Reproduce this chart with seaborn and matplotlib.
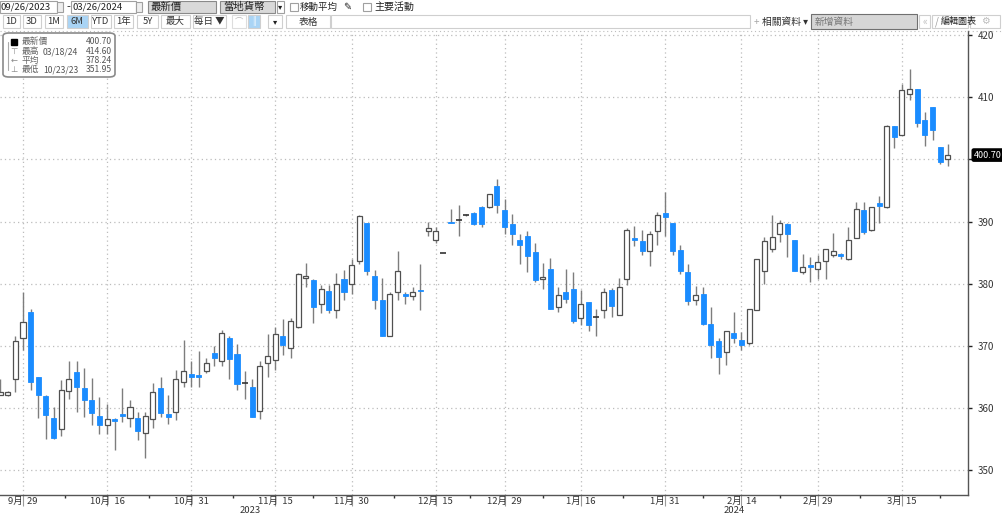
import matplotlib
matplotlib.use("Agg")
import matplotlib.pyplot as plt
import matplotlib.transforms as mtransforms
from matplotlib.patches import Rectangle, FancyBboxPatch
from matplotlib.lines import Line2D
import seaborn as sns
import numpy as np
import pandas as pd

W, H = 1003, 515

# 交易日 (美股假日除外)
holidays = ['2023-11-23', '2023-12-25', '2024-01-01', '2024-01-15', '2024-02-19']
dates = pd.bdate_range('2023-09-26', '2024-03-25', freq='C', holidays=holidays)

opens = [
    362.1, 362.1, 364.7, 371.3, 375.4, 364.9, 361.9, 358.3, 356.6, 362.7,
    365.7, 363.2, 361.2, 358.7, 357.2, 358.2, 359.0, 358.4, 358.4, 355.9,
    358.2, 363.2, 359.0, 359.4, 364.2, 365.4, 365.3, 366.0, 368.8, 367.5,
    371.2, 368.7, 364.1, 363.3, 359.5, 367.3, 367.7, 371.5, 369.7, 373.1,
    380.9, 380.6, 376.8, 378.8, 375.8, 380.8, 379.9, 383.7, 389.7, 381.2,
    377.3, 371.6, 378.6, 378.4, 378.0, 379.0, 388.5, 387.0, 384.9, 390.0,
    390.15, 391.0, 391.4, 392.4, 392.3, 395.8, 391.8, 389.6, 387.1, 387.6,
    385.1, 380.8, 382.4, 376.2, 378.7, 379.1, 374.5, 377.0, 374.55, 375.8,
    379.0, 374.9, 380.7, 387.4, 386.8, 385.3, 388.5, 391.3, 389.7, 385.4,
    381.9, 377.4, 378.4, 373.5, 370.8, 369.0, 372.1, 370.9, 370.4, 375.8,
    382.0, 385.6, 388.05, 389.6, 387.1, 381.8, 383.0, 382.4, 383.7, 384.6,
    384.7, 383.9, 387.4, 391.8, 388.6, 393.0, 392.3, 405.4, 404.0, 410.5,
    411.4, 406.4, 408.5, 402.0, 400.0,
]
highs = [
    364.6, 362.8, 371.5, 378.7, 376.0, 365.0, 362.0, 360.2, 364.5, 367.5,
    367.5, 366.4, 364.8, 361.8, 360.6, 358.3, 363.2, 361.2, 359.4, 359.4,
    364.0, 364.9, 362.1, 366.1, 371.0, 367.6, 369.2, 368.1, 370.0, 372.5,
    371.5, 370.3, 366.0, 364.6, 367.5, 371.9, 373.0, 374.3, 374.5, 381.7,
    383.4, 380.7, 379.8, 379.8, 381.7, 382.2, 384.0, 391.1, 389.8, 382.2,
    380.9, 378.7, 385.2, 378.7, 379.5, 383.2, 390.0, 389.1, 384.9, 392.0,
    392.7, 391.2, 391.5, 392.5, 394.5, 396.8, 393.6, 391.2, 388.0, 388.5,
    386.6, 383.3, 384.1, 379.4, 382.3, 381.9, 379.0, 377.1, 376.0, 379.3,
    379.3, 380.9, 388.9, 389.3, 388.6, 388.5, 391.6, 394.8, 389.8, 386.2,
    383.2, 379.7, 379.5, 376.2, 371.2, 372.4, 375.5, 372.2, 376.0, 383.9,
    387.5, 391.0, 390.2, 389.8, 387.1, 384.7, 384.3, 384.6, 385.6, 388.2,
    384.9, 389.1, 393.1, 393.1, 392.3, 394.1, 405.5, 405.4, 412.1, 414.6,
    411.4, 407.6, 408.5, 402.0, 402.4,
]
lows = [
    362.0, 361.9, 362.6, 369.3, 362.9, 358.3, 355.0, 355.0, 355.4, 361.5,
    359.3, 358.6, 357.2, 355.8, 355.8, 353.2, 357.8, 357.0, 354.8, 351.95,
    356.7, 358.6, 357.4, 358.0, 363.3, 363.3, 363.4, 365.6, 366.8, 366.8,
    364.7, 362.9, 361.5, 358.5, 358.2, 365.0, 366.1, 368.5, 368.0, 372.8,
    379.5, 373.6, 375.2, 375.3, 374.4, 377.4, 378.4, 383.2, 381.4, 376.0,
    371.5, 371.5, 377.4, 376.8, 377.4, 375.7, 387.6, 386.5, 384.9, 389.7,
    387.6, 390.9, 389.5, 389.2, 392.1, 391.4, 388.0, 386.2, 383.2, 381.9,
    380.2, 379.1, 375.9, 375.5, 376.9, 373.6, 373.4, 372.4, 371.6, 374.4,
    374.7, 374.9, 379.8, 386.1, 384.6, 382.8, 386.2, 387.6, 384.6, 381.6,
    376.5, 376.5, 373.3, 368.0, 365.5, 366.9, 370.4, 369.3, 370.1, 375.7,
    380.0, 385.1, 386.7, 384.3, 382.0, 381.6, 380.3, 380.8, 380.8, 384.3,
    383.9, 383.8, 387.3, 388.0, 388.5, 389.7, 392.2, 401.9, 403.9, 409.6,
    405.2, 402.1, 403.2, 399.2, 399.0,
]
closes = [
    362.6, 362.6, 370.8, 373.8, 364.2, 362.1, 358.9, 355.2, 362.9, 364.7,
    363.4, 361.2, 359.1, 357.2, 358.2, 357.9, 358.7, 360.2, 356.3, 358.7,
    362.5, 359.1, 358.6, 364.7, 366.0, 365.0, 364.9, 367.3, 368.1, 372.0,
    367.9, 363.8, 364.0, 358.6, 366.7, 368.4, 371.9, 370.2, 374.0, 381.5,
    381.2, 376.3, 379.1, 375.8, 379.9, 378.7, 383.0, 390.9, 382.0, 377.4,
    371.6, 378.4, 382.1, 378.0, 378.7, 378.8, 388.9, 388.5, 384.9, 389.8,
    390.2, 391.05, 389.6, 389.6, 394.4, 392.6, 389.1, 388.0, 386.2, 384.5,
    380.6, 381.1, 375.9, 378.1, 377.6, 374.0, 376.7, 373.4, 374.65, 378.6,
    376.4, 379.4, 388.6, 387.0, 385.3, 388.0, 391.1, 390.8, 385.3, 382.1,
    377.2, 378.1, 373.5, 370.2, 368.2, 372.4, 371.2, 370.1, 376.0, 383.9,
    386.8, 387.5, 389.8, 388.05, 382.0, 382.7, 382.7, 383.5, 385.6, 385.3,
    384.4, 387.1, 392.0, 388.3, 392.3, 392.5, 405.3, 403.6, 411.2, 411.4,
    405.9, 403.9, 404.7, 399.6, 400.7,
]

tick_dates = ['2023-09-29', '2023-10-16', '2023-10-31', '2023-11-15', '2023-11-30',
              '2023-12-15', '2023-12-29', '2024-01-16', '2024-01-31', '2024-02-14',
              '2024-02-29', '2024-03-15']
tick_labels = ['9月  29', '10月  16', '10月  31', '11月  15', '11月  30', '12月  15',
               '12月  29', '1月  16', '1月  31', '2月  14', '2月  29', '3月  15']
y_ticks = [350, 360, 370, 380, 390, 400, 410, 420]

BLUE = '#1a8cff'

sns.set_theme(style="white")
plt.rcParams['font.family'] = ['Noto Sans CJK TC', 'DejaVu Sans']
plt.rcParams['axes.unicode_minus'] = False

df = pd.DataFrame({'date': dates, 'open': opens, 'high': highs, 'low': lows, 'close': closes})
df['pos'] = np.arange(len(df))

fig = plt.figure(figsize=(W / 100, H / 100), dpi=100, facecolor='white')
ax = fig.add_axes([0 / W, (H - 495) / H, 968 / W, (495 - 31) / H])
ax.set_facecolor('white')

# 影線
ax.vlines(df['pos'], df['low'], df['high'], color='#7d7d7d', linewidth=1.0, zorder=2)

# 實體
diff = df['close'] - df['open']
doji = diff.abs() <= 0.12
up = (diff > 0) & ~doji
down = (diff < 0) & ~doji
bottom = df[['open', 'close']].min(axis=1)
height = diff.abs().clip(lower=0.2)
ax.bar(df.loc[up, 'pos'], height[up], bottom=bottom[up], width=0.66,
       color='white', edgecolor='#505050', linewidth=0.9, zorder=3)
ax.bar(df.loc[down, 'pos'], height[down], bottom=bottom[down], width=0.66,
       color=BLUE, edgecolor=BLUE, linewidth=0.6, zorder=3)
ax.hlines(df.loc[doji, 'close'], df.loc[doji, 'pos'] - 0.38, df.loc[doji, 'pos'] + 0.38,
          color='#333333', linewidth=1.2, zorder=3)

ax.set_xlim(-0.01, 126.64)
ax.set_ylim(345.98, 420.67)

pos_of = {d.strftime('%Y-%m-%d'): p for d, p in zip(df['date'], df['pos'])}
major = [pos_of[d] for d in tick_dates]
minor = [(a + b) / 2 for a, b in zip(major[:-1], major[1:])] + [major[-1] + 5]
ax.set_xticks(major)
ax.set_xticklabels([''] * len(major))
ax.set_xticks(minor, minor=True)
ax.tick_params(axis='x', which='major', direction='out', length=8, width=0.8, color='#9a9a9a', bottom=True)
ax.tick_params(axis='x', which='minor', direction='out', length=2, width=1.0, color='#333333', bottom=True)
trans = mtransforms.blended_transform_factory(ax.transData, ax.transAxes)
for p, lab in zip(major, tick_labels):
    ax.text(p, -0.0145, lab, transform=trans, ha='center', va='center', fontsize=6.8, color='#333333')
ax.text(32.7, -0.033, '2023', transform=trans, ha='center', va='center', fontsize=6.8, color='#333333')
ax.text(96.1, -0.033, '2024', transform=trans, ha='center', va='center', fontsize=6.8, color='#333333')

# 400 的刻度文字被最新價標籤蓋住
ax.yaxis.tick_right()
ax.set_yticks(y_ticks)
ax.set_yticklabels(['' if v == 400 else str(v) for v in y_ticks])
ax.tick_params(axis='y', direction='out', length=3, width=1.0, color='#222222',
               labelsize=7, labelcolor='#333333', pad=4, right=True, left=False)

ax.grid(True, which='major', color='#bcbcbc', linestyle=(0, (1, 2.5)), linewidth=0.9)
for s in ['top', 'left']:
    ax.spines[s].set_visible(False)
for s in ['right', 'bottom']:
    ax.spines[s].set_color('#555555')
    ax.spines[s].set_linewidth(1.0)

# 最新價標籤
ytrans = mtransforms.blended_transform_factory(ax.transAxes, ax.transData)
ax.text(1.006, closes[-1], f'{closes[-1]:.2f}', transform=ytrans, ha='left', va='center',
        fontsize=6.5, color='white', clip_on=False, zorder=10,
        bbox=dict(boxstyle='round,pad=0.18', facecolor='black', edgecolor='black'))


def fx(x):
    return x / W


def fy(y):
    return 1 - y / H


def box(x0, y0, x1, y1, fc='white', ec='#a0a0a0', lw=0.8):
    fig.add_artist(Rectangle((fx(x0), fy(y1)), (x1 - x0) / W, (y1 - y0) / H,
                             transform=fig.transFigure, facecolor=fc, edgecolor=ec, linewidth=lw))


def label(x, y, s, size=7.5, color='#222222', ha='left', **kw):
    fig.text(fx(x), fy(y), s, fontsize=size, color=color, ha=ha, va='center', **kw)


# 工具列 第一行
box(0, 1, 57, 13)
label(1, 7, '09/26/2023', size=6.9)
box(57, 2, 63, 12, fc='#eeeeee')
label(66, 7, '-', size=8)
box(71, 1, 136, 13)
label(73, 7, '03/26/2024', size=6.9)
box(136, 2, 142, 12, fc='#eeeeee')
box(148, 1, 216, 13, fc='#d9d9d9', ec='#8a8a8a')
label(151, 7, '最新價', size=7.5)
box(220, 1, 275, 13, fc='#d9d9d9', ec='#8a8a8a')
label(223, 7, '當地貨幣', size=7.5)
box(277, 1, 284, 13)
label(280.5, 7, '▾', size=6, ha='center')
box(290, 3, 298, 11)
label(300, 7, '移動平均', size=6.8)
label(343, 7, '✎', size=7, family=['DejaVu Sans'])
box(363, 3, 371, 11)
label(374, 7, '主要活動', size=7.2)

# 工具列 第二行
buttons = [(3, 20, '1D'), (23, 41, '3D'), (45, 63, '1M'), (67, 88, '6M'), (91, 111, 'YTD'),
           (114, 133, '1年'), (137, 158, '5Y'), (161, 190, '最大'), (193, 226, '每日 ▼')]
for x0, x1, s in buttons:
    fc = '#a9d4f5' if s == '6M' else 'white'
    box(x0, 15, x1, 28, fc=fc, ec='#cfcfcf')
    label((x0 + x1) / 2, 21.5, s, size=6.8, ha='center', color='#333333')
box(232, 15, 246, 28, fc='white', ec='#dddddd')
label(239, 21.5, '⌒', size=6, ha='center', color='#bbbbbb')
box(248, 15, 260, 28, fc='#a9d4f5', ec='#cfcfcf')
label(254, 21.5, '||', size=6, ha='center', color='#ffffff')
box(268, 15, 282, 28, fc='white', ec='#cfcfcf')
label(275, 21.5, '▾', size=6, ha='center')
box(286, 15, 330, 28, fc='white', ec='#cfcfcf')
label(308, 21.5, '表格', size=7, ha='center', color='#333333')
box(331, 15, 750, 28, fc='white', ec='#cfcfcf')
label(754, 21.5, '+', size=7, color='#aaaaaa')
label(762, 21.5, '相關資料 ▾', size=7, color='#333333')
box(811, 14, 917, 29, fc='#d6d6d6', ec='#707070')
label(815, 21.5, '新增資料', size=7, color='#777777')
box(919, 15, 930, 28, fc='white', ec='#cfcfcf')
label(924.5, 21.5, '«', size=7, ha='center', color='#bbbbbb')
box(932, 15, 968, 28, fc='white', ec='#cfcfcf')
label(935, 21.5, '/', size=7, color='#999999')
label(941, 21.5, '編輯圖表', size=6.5, color='#222222')
box(970, 15, 1000, 28, fc='white', ec='#cfcfcf')
label(985, 21.5, '⚙', size=7, ha='center', color='#bbbbbb', family=['DejaVu Sans'])
fig.add_artist(Line2D([0, 1], [fy(31), fy(31)], transform=fig.transFigure,
                      color='#bdbdbd', linewidth=0.8, linestyle=(0, (1, 2.5))))

# 統計框
fig.add_artist(FancyBboxPatch((fx(3), fy(77)), 112 / W, 44 / H, transform=fig.transFigure,
                              boxstyle='round,pad=0,rounding_size=0.006', facecolor='white',
                              edgecolor='#8a8a8a', linewidth=1.2, zorder=5))
rows = [(41.7, '最新價', '', '400.70'), (51.7, '最高', '03/18/24', '414.60'),
        (60.5, '平均', '', '378.24'), (69.5, '最低', '10/23/23', '351.95')]
for y, name, d, v in rows:
    fig.text(fx(22), fy(y), name, fontsize=6.3, color='#666666', va='center', zorder=6)
    if d:
        fig.text(fx(43), fy(y), d, fontsize=6.2, color='#555555', va='center', zorder=6)
    fig.text(fx(112), fy(y), v, fontsize=6.2, color='#555555', va='center', ha='right', zorder=6)
fig.add_artist(Line2D([fx(8), fx(8)], [fy(42), fy(70)], transform=fig.transFigure,
                      color='#aaaaaa', linewidth=0.8, zorder=6))
fig.add_artist(Rectangle((fx(11), fy(45)), 6 / W, 6 / H, transform=fig.transFigure,
                         facecolor='black', edgecolor='black', zorder=6))
for y, sym in [(51.7, '⊤'), (60.5, '←'), (69.5, '⊥')]:
    fig.text(fx(14), fy(y), sym, fontsize=6, color='#888888', va='center', ha='center',
             family=['DejaVu Sans'], zorder=6)

fig.savefig('out.png', dpi=100, facecolor='white')
